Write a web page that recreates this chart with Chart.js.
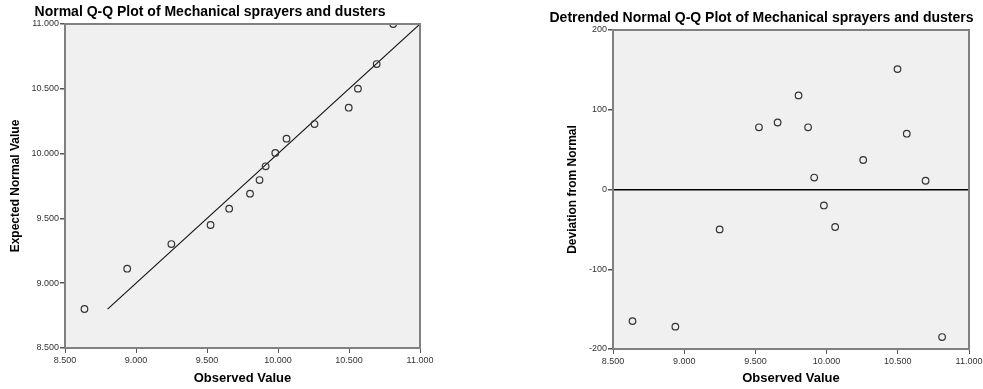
<!DOCTYPE html>
<html>
<head>
<meta charset="utf-8">
<script src="https://cdn.jsdelivr.net/npm/chart.js@4.4.0/dist/chart.umd.min.js"></script>
<style>
  body { margin: 0; background: #fff; }
  .box { position: absolute; top: 0; height: 389px; }
  #qqBox { left: 0; width: 445px; }
  #detBox { left: 540px; width: 443px; }
</style>
</head>
<body>
<div class="box" id="qqBox"><canvas id="qqChart"></canvas></div>
<div class="box" id="detBox"><canvas id="detChart"></canvas></div>
<script>
const observed = [8.637, 8.938, 9.249, 9.525, 9.656, 9.803, 9.870, 9.913, 9.981, 10.060, 10.257, 10.498, 10.563, 10.695, 10.811];
const expected = [8.801, 9.112, 9.302, 9.449, 9.575, 9.691, 9.796, 9.902, 10.005, 10.115, 10.228, 10.354, 10.501, 10.691, 11.000];
const deviation = [-165, -172, -50, 78, 84, 118, 78, 15, -20, -47, 37, 151, 70, 11, -185];
const refLine = [8.80, 11.0]; // y = x line ends

const xTicks = [8.5, 9.0, 9.5, 10.0, 10.5, 11.0];
const qqYTicks = [8.5, 9.0, 9.5, 10.0, 10.5, 11.0];
const detYTicks = [-200, -100, 0, 100, 200];

Chart.defaults.font.family = "'Liberation Sans', Arial, sans-serif";
Chart.defaults.animation = false;

// grey plot background + frame round the plot area
const frame = {
  id: 'frame',
  beforeDraw(chart) {
    const a = chart.chartArea, c = chart.ctx;
    c.save();
    c.fillStyle = '#f0f0f0';
    c.fillRect(a.left, a.top, a.right - a.left, a.bottom - a.top);
    c.restore();
  },
  afterDatasetsDraw(chart) {
    const a = chart.chartArea, c = chart.ctx;
    c.save();
    c.strokeStyle = '#808080';
    c.lineWidth = 2;
    c.strokeRect(a.left, a.top, a.right - a.left, a.bottom - a.top);
    c.restore();
  }
};

function pts(xs, ys) {
  return xs.map((x, i) => ({ x: x, y: ys[i] }));
}

function fmt3(v) { return v.toFixed(3); }

function makeChart(id, o) {
  return new Chart(document.getElementById(id), {
    type: 'scatter',
    data: { datasets: o.datasets },
    options: {
      responsive: true,
      maintainAspectRatio: false,
      layout: { padding: { top: o.padTop, right: o.padRight, left: 0, bottom: 0 } },
      plugins: {
        legend: { display: false },
        tooltip: { enabled: false },
        title: {
          display: true,
          text: o.title,
          color: '#000',
          font: { size: 14, weight: 'bold' },
          padding: { top: 4, bottom: 3.2 }
        }
      },
      scales: {
        x: {
          type: 'linear',
          min: 8.5, max: 11,
          afterBuildTicks: s => { s.ticks = xTicks.map(v => ({ value: v })); },
          ticks: { callback: fmt3, color: '#333', font: { size: 9 }, padding: 2, maxRotation: 0 },
          grid: { display: true, drawOnChartArea: false, tickLength: 5, tickColor: '#555' },
          border: { color: '#808080', width: 2 },
          title: { display: true, text: 'Observed Value', color: '#000', font: { size: 13, weight: 'bold' }, padding: { top: 4, bottom: 3 } },
          afterFit: s => { s.height = o.xHeight; s.paddingLeft = 0; s.paddingRight = o.areaRight; }
        },
        y: {
          type: 'linear',
          min: o.yMin, max: o.yMax,
          afterBuildTicks: s => { s.ticks = o.yTicks.map(v => ({ value: v })); },
          ticks: { callback: o.yFmt, color: '#333', font: { size: 9 }, padding: 1 },
          grid: {
            display: true,
            drawOnChartArea: o.zeroLine,
            color: c => (c.tick && c.tick.value === 0) ? '#000' : 'rgba(0,0,0,0)',
            lineWidth: 1.5,
            tickLength: 5,
            tickColor: '#555'
          },
          border: { color: '#808080', width: 2 },
          title: { display: true, text: o.yTitle, color: '#000', font: { size: 12, weight: 'bold' }, padding: { top: o.yTitlePad, bottom: 0 } },
          afterFit: s => { s.width = o.yWidth; s.paddingTop = 0; s.paddingBottom = 0; }
        }
      }
    },
    plugins: [frame]
  });
}

const marker = {
  showLine: false,
  pointStyle: 'circle',
  pointRadius: 3.3,
  pointBorderWidth: 1.2,
  pointBorderColor: '#333',
  pointBackgroundColor: 'rgba(0,0,0,0)',
  clip: 0
};

makeChart('qqChart', {
  title: 'Normal Q-Q Plot of Mechanical sprayers and dusters',
  padTop: 0, padRight: 25, areaRight: 4,
  xHeight: 41, yWidth: 65, yTitlePad: 8,
  yMin: 8.5, yMax: 11, yTicks: qqYTicks, yFmt: fmt3,
  yTitle: 'Expected Normal Value',
  zeroLine: false,
  datasets: [
    Object.assign({ data: pts(observed, expected) }, marker),
    {
      data: pts(refLine, refLine),
      showLine: true,
      borderColor: '#111',
      borderWidth: 1.1,
      pointRadius: 0,
      clip: 0
    }
  ]
});

makeChart('detChart', {
  title: 'Detrended Normal Q-Q Plot of Mechanical sprayers and dusters',
  padTop: 6, padRight: 0, areaRight: 14,
  xHeight: 40, yWidth: 73, yTitlePad: 25,
  yMin: -200, yMax: 200, yTicks: detYTicks, yFmt: v => String(v),
  yTitle: 'Deviation from Normal',
  zeroLine: true,
  datasets: [
    Object.assign({ data: pts(observed, deviation) }, marker)
  ]
});
</script>
</body>
</html>
